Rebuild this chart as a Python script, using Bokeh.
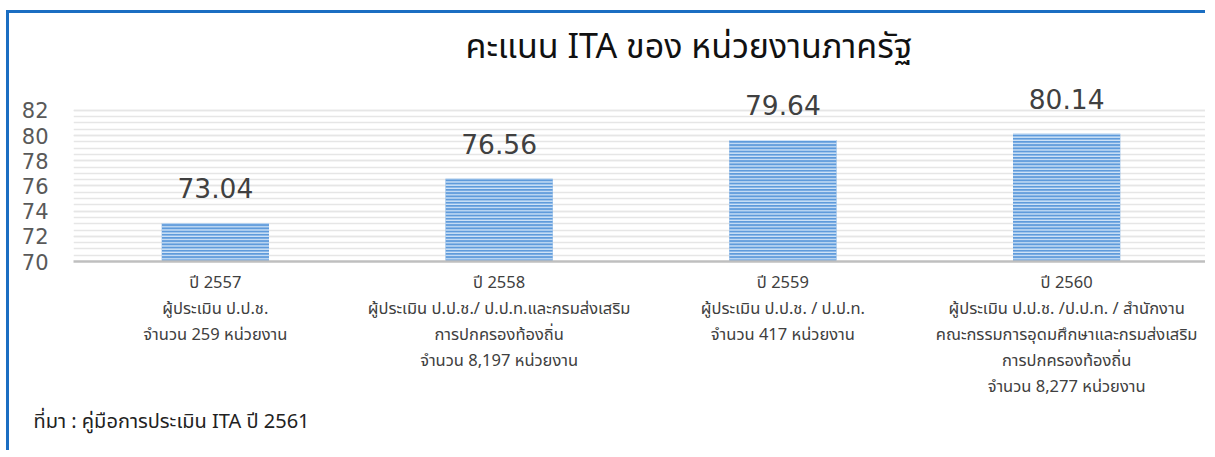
from bokeh.plotting import figure
from bokeh.models import ColumnDataSource, Title, SingleIntervalTicker
from bokeh.embed import file_html
from bokeh.resources import INLINE
from bokeh.core.properties import value

# ---- data ----
years = ["ปี 2557", "ปี 2558", "ปี 2559", "ปี 2560"]
assessors = [
    "ผู้ประเมิน ป.ป.ช.",
    "ผู้ประเมิน ป.ป.ช./ ป.ป.ท.และกรมส่งเสริม\nการปกครองท้องถิ่น",
    "ผู้ประเมิน ป.ป.ช. / ป.ป.ท.",
    "ผู้ประเมิน ป.ป.ช. /ป.ป.ท. / สำนักงาน\nคณะกรรมการอุดมศึกษาและกรมส่งเสริม\nการปกครองท้องถิ่น",
]
agencies = ["จำนวน 259 หน่วยงาน", "จำนวน 8,197 หน่วยงาน", "จำนวน 417 หน่วยงาน", "จำนวน 8,277 หน่วยงาน"]
scores = [73.04, 76.56, 79.64, 80.14]
y_tick_start = 70
y_tick_end = 82
title_text = "คะแนน ITA ของ หน่วยงานภาครัฐ"
source_text = "ที่มา : คู่มือการประเมิน ITA ปี 2561"

cats = ["\n".join([y, a, g]) for y, a, g in zip(years, assessors, agencies)]
src = ColumnDataSource(dict(cat=cats, score=scores, label=["%.2f" % s for s in scores]))

THAI = "Tahoma, 'Noto Sans Thai', 'Noto Sans', 'DejaVu Sans', sans-serif"

p = figure(
    x_range=cats, y_range=(70, 85),
    width=1199, height=440,
    output_backend="svg", toolbar_location=None,
    min_border_left=64, min_border_right=0, min_border_top=59, min_border_bottom=192,
)
p.styles = {"border-top": "3px solid #1b6ec2", "border-left": "3px solid #1b6ec2",
            "margin-top": "10px", "margin-left": "6px"}
p.outline_line_color = None
p.background_fill_color = "white"
p.border_fill_color = "white"

p.vbar(x="cat", top="score", bottom=70, width=0.378, source=src,
       fill_color="#5f9bdb", line_color=None,
       hatch_pattern="horizontal_line", hatch_color="#d3e6f8", hatch_scale=3.2, hatch_weight=1.4)

p.text(x="cat", y="score", text="label", source=src, y_offset=-35,
       text_align="center", text_baseline="middle",
       text_font=value("DejaVu Sans"), text_font_size="26.5px", text_color="#404040")

# y axis
p.yaxis.ticker = SingleIntervalTicker(interval=2, num_minor_ticks=4)
p.yaxis.bounds = (y_tick_start, y_tick_end)
p.yaxis.axis_line_color = None
p.yaxis.major_tick_line_color = None
p.yaxis.minor_tick_line_color = None
p.yaxis.major_label_text_font = "DejaVu Sans"
p.yaxis.major_label_text_font_size = "21px"
p.yaxis.major_label_text_color = "#595959"
p.yaxis.major_label_standoff = 19

p.ygrid.bounds = (y_tick_start, y_tick_end)
p.ygrid.grid_line_color = "#e6e6e6"
p.ygrid.grid_line_width = 1.5
p.ygrid.minor_grid_line_color = "#e6e6e6"
p.ygrid.minor_grid_line_width = 1.5
p.xgrid.grid_line_color = None

# x axis
p.xaxis.axis_line_color = "#bfbfbf"
p.xaxis.axis_line_width = 2.5
p.xaxis.major_tick_line_color = None
p.xaxis.minor_tick_line_color = None
p.xaxis.major_label_text_font = THAI
p.xaxis.major_label_text_font_size = "16.5px"
p.xaxis.major_label_text_color = "#404040"
p.xaxis.major_label_text_line_height = 1.04
p.xaxis.major_label_standoff = 2

# title and source note
p.title.text = title_text
p.title.align = "left"
p.title.offset = 392
p.title.text_font = THAI
p.title.text_font_size = "34px"
p.title.text_color = "#111111"
p.title.text_font_style = "normal"
p.title.standoff = 0

p.add_layout(Title(text=source_text, align="left", offset=-40,
                   text_font=THAI, text_font_size="20px", text_color="#222222",
                   text_font_style="normal", text_line_height=1.6, standoff=6), "below")

open("out.html", "w").write(file_html(p, INLINE))
